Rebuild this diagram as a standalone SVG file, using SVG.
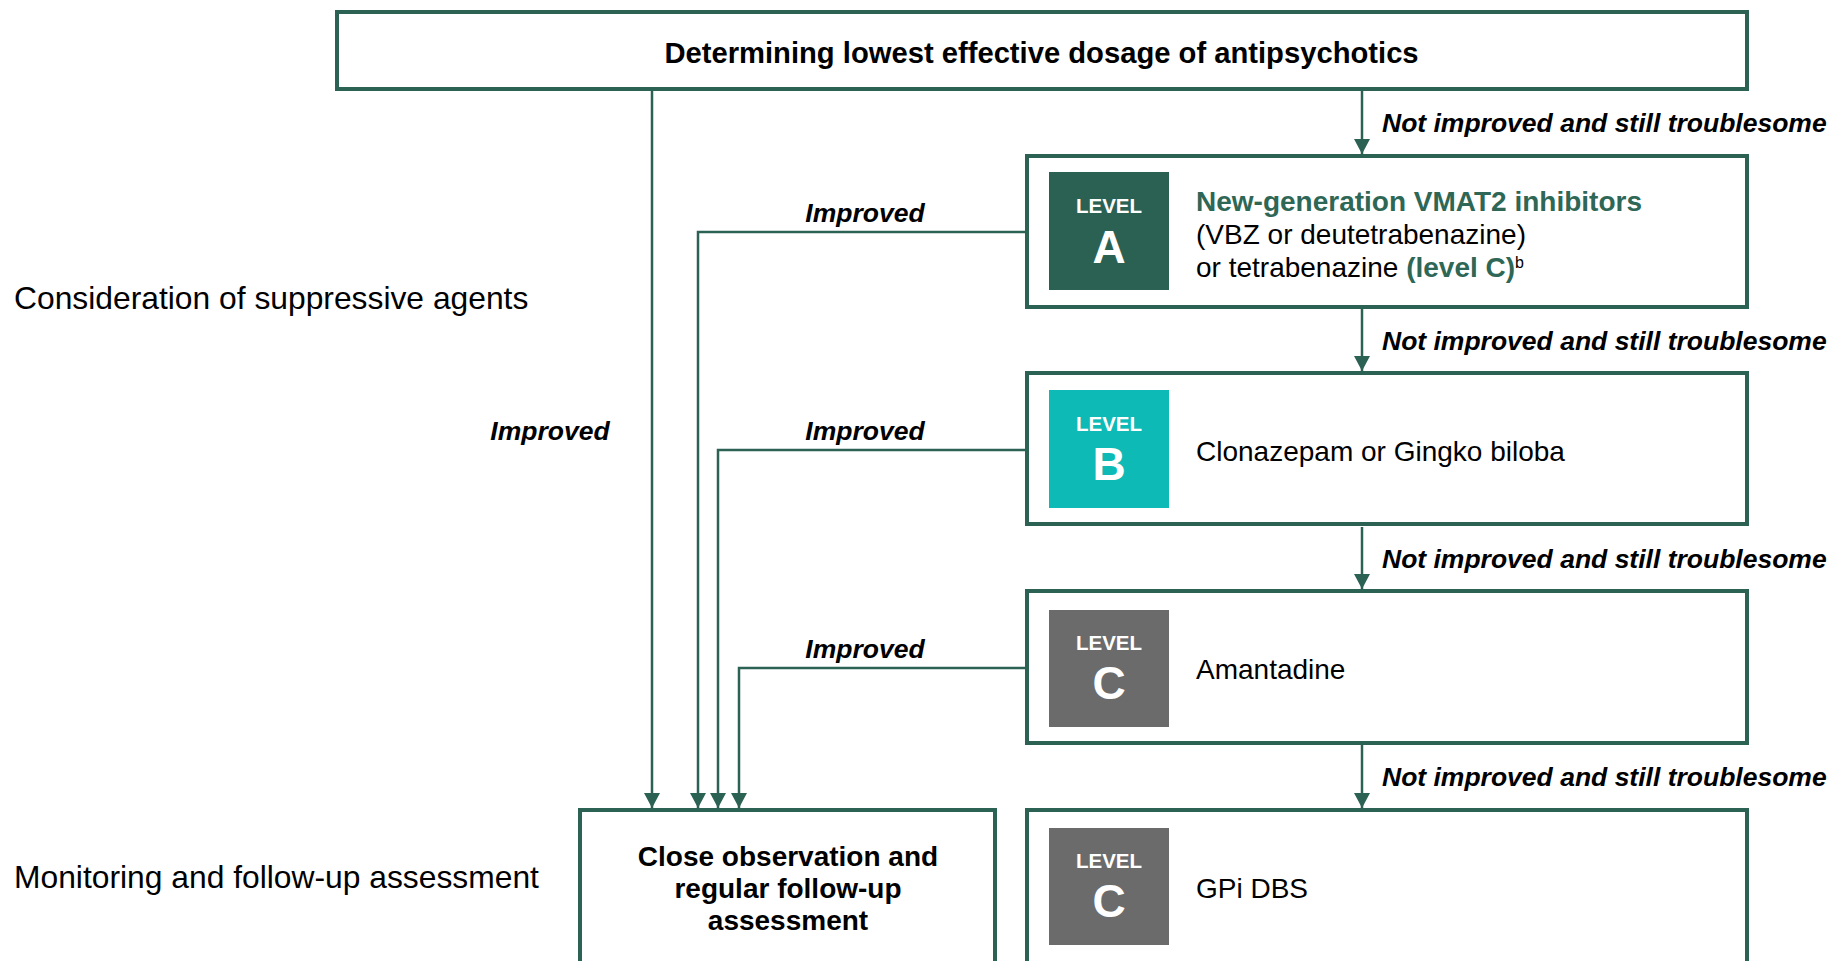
<svg xmlns="http://www.w3.org/2000/svg" width="1831" height="961" viewBox="0 0 1831 961">
<style>
text{font-family:"Liberation Sans",Arial,sans-serif;fill:#000}
.box{fill:#fff;stroke:#2C6253;stroke-width:4}
.con{fill:none;stroke:#2C6253;stroke-width:2.5}
.lbl{font-size:26.5px;font-weight:bold;font-style:italic}
.side{font-size:31.8px}
.body{font-size:28px}
.hd{font-size:29.2px;font-weight:bold}
.lv{font-size:20.5px;font-weight:bold;fill:#fff}
.lvl{font-size:46px;font-weight:bold;fill:#fff}
.green{fill:#2E6756;font-weight:bold}
.bA{fill:#2B6152}
.bB{fill:#0EBAB5}
.bC{fill:#6B6B6B}
</style>
<defs>
<marker id="ah" markerUnits="userSpaceOnUse" markerWidth="15" markerHeight="16" refX="15" refY="8" orient="auto">
<path d="M0,0 L15,8 L0,16 Z" fill="#2C6253"/>
</marker>
</defs>
<rect width="1831" height="961" fill="#fff"/>

<g id="side-labels">
<text class="side" x="14" y="309">Consideration of suppressive agents</text>
<text class="side" x="14" y="888">Monitoring and follow-up assessment</text>
</g>

<g id="start">
<rect class="box" x="337" y="12" width="1410" height="77"/>
<text class="hd" x="1041.5" y="63" text-anchor="middle">Determining lowest effective dosage of antipsychotics</text>
</g>

<g id="levelA">
<rect class="box" x="1027" y="156" width="720" height="151"/>
<rect class="bA" x="1049" y="172" width="120" height="118"/>
<text class="lv" x="1109" y="213" text-anchor="middle">LEVEL</text>
<text class="lvl" x="1109" y="263" text-anchor="middle">A</text>
<text class="body green" x="1196" y="211">New-generation VMAT2 inhibitors</text>
<text class="body" x="1196" y="244">(VBZ or deutetrabenazine)</text>
<text class="body" x="1196" y="277">or tetrabenazine <tspan class="green">(level C)</tspan><tspan font-size="16" dy="-9">b</tspan></text>
</g>

<g id="levelB">
<rect class="box" x="1027" y="373" width="720" height="151"/>
<rect class="bB" x="1049" y="390" width="120" height="118"/>
<text class="lv" x="1109" y="431" text-anchor="middle">LEVEL</text>
<text class="lvl" x="1109" y="480" text-anchor="middle">B</text>
<text class="body" x="1196" y="461">Clonazepam or Gingko biloba</text>
</g>

<g id="levelC1">
<rect class="box" x="1027" y="591" width="720" height="152"/>
<rect class="bC" x="1049" y="610" width="120" height="117"/>
<text class="lv" x="1109" y="650" text-anchor="middle">LEVEL</text>
<text class="lvl" x="1109" y="699" text-anchor="middle">C</text>
<text class="body" x="1196" y="679">Amantadine</text>
</g>

<g id="levelC2">
<rect class="box" x="1027" y="810" width="720" height="160"/>
<rect class="bC" x="1049" y="828" width="120" height="117"/>
<text class="lv" x="1109" y="868" text-anchor="middle">LEVEL</text>
<text class="lvl" x="1109" y="917" text-anchor="middle">C</text>
<text class="body" x="1196" y="898">GPi DBS</text>
</g>

<g id="followup">
<rect class="box" x="580" y="810" width="415" height="160"/>
<text class="body" font-weight="bold" x="788" y="866" text-anchor="middle">Close observation and</text>
<text class="body" font-weight="bold" x="788" y="898" text-anchor="middle">regular follow-up</text>
<text class="body" font-weight="bold" x="788" y="930" text-anchor="middle">assessment</text>
</g>

<g id="connectors">
<path class="con" d="M1362,91 V154" marker-end="url(#ah)"/>
<path class="con" d="M1362,309 V371" marker-end="url(#ah)"/>
<path class="con" d="M1362,527 V589" marker-end="url(#ah)"/>
<path class="con" d="M1362,745 V808" marker-end="url(#ah)"/>
<path class="con" d="M652,91 V808" marker-end="url(#ah)"/>
<path class="con" d="M1025,232 H698 V808" marker-end="url(#ah)"/>
<path class="con" d="M1025,450 H718 V808" marker-end="url(#ah)"/>
<path class="con" d="M1025,668 H739 V808" marker-end="url(#ah)"/>
<text class="lbl" x="1382" y="132">Not improved and still troublesome</text>
<text class="lbl" x="1382" y="350">Not improved and still troublesome</text>
<text class="lbl" x="1382" y="568">Not improved and still troublesome</text>
<text class="lbl" x="1382" y="786">Not improved and still troublesome</text>
<text class="lbl" x="865" y="222" text-anchor="middle">Improved</text>
<text class="lbl" x="865" y="440" text-anchor="middle">Improved</text>
<text class="lbl" x="865" y="658" text-anchor="middle">Improved</text>
<text class="lbl" x="550" y="440" text-anchor="middle">Improved</text>
</g>
</svg>
